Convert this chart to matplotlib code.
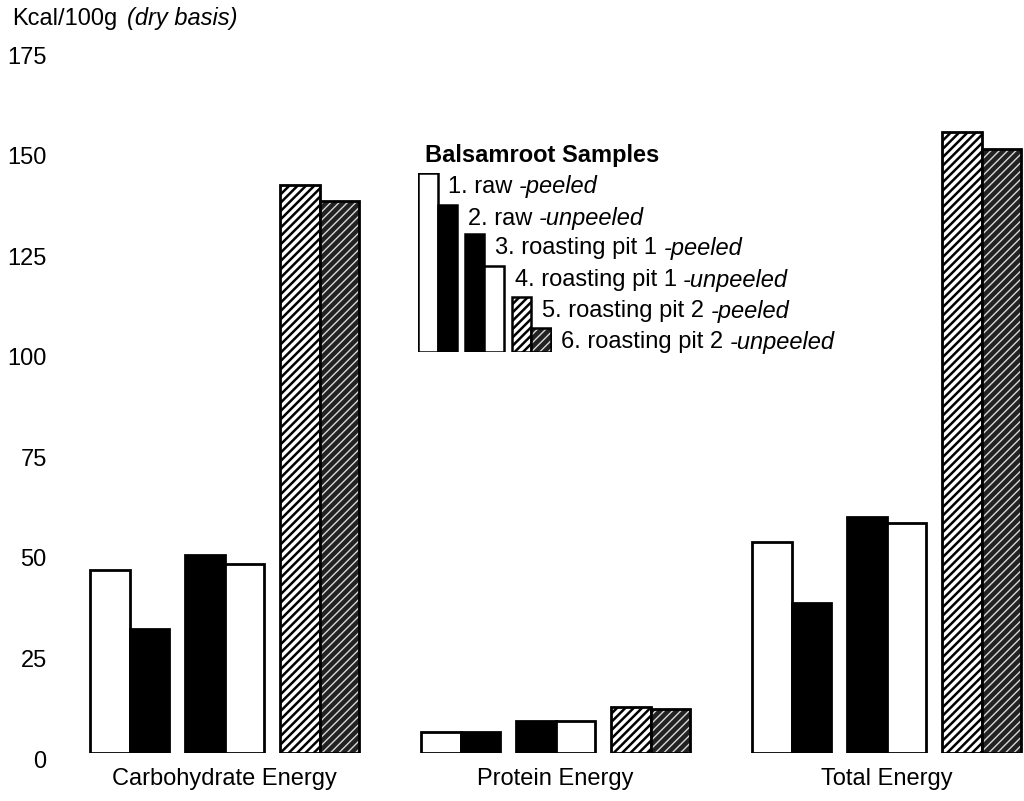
import numpy as np
import matplotlib.pyplot as plt
from matplotlib.transforms import ScaledTranslation

plt.rcParams['font.family'] = ['Liberation Sans', 'DejaVu Sans']

categories = ['Carbohydrate Energy', 'Protein Energy', 'Total Energy']
sample_main = ['1. raw ', '2. raw ', '3. roasting pit 1 ', '4. roasting pit 1 ',
               '5. roasting pit 2 ', '6. roasting pit 2 ']
sample_style = ['-peeled', '-unpeeled', '-peeled', '-unpeeled', '-peeled', '-unpeeled']

raw_peeled = [45.4, 5.2, 52.5]
raw_unpeeled = [30.9, 5.2, 37.2]
pit1_peeled = [49.2, 7.9, 58.6]
pit1_unpeeled = [47.1, 7.9, 57.1]
pit2_peeled = [141.3, 11.4, 154.5]
pit2_unpeeled = [137.2, 10.9, 150.2]
series = [raw_peeled, raw_unpeeled, pit1_peeled, pit1_unpeeled, pit2_peeled, pit2_unpeeled]
yticks = [0, 25, 50, 75, 100, 125, 150, 175]

faces = ['white', 'black', 'black', 'white', 'white', 'black']


def draw_bars(a, xs, hs, i, w, lw):
    # plain bars, or hatched bars: fill + hatch first, black outline on top
    if i < 4:
        a.bar(xs, hs, width=w, facecolor=faces[i], edgecolor='black', linewidth=lw)
    elif i == 4:
        with plt.rc_context({'hatch.linewidth': 1.8}):
            a.bar(xs, hs, width=w, facecolor='white', edgecolor='black', linewidth=lw,
                  hatch='////')
    else:
        with plt.rc_context({'hatch.linewidth': 1.0}):
            a.bar(xs, hs, width=w, facecolor='#222222', edgecolor='#d8d8d8', linewidth=0,
                  hatch='////')
        a.bar(xs, hs, width=w, fill=False, edgecolor='black', linewidth=lw)


fig = plt.figure(figsize=(10.24, 8.01), dpi=100)
ax = fig.add_axes([80 / 1024, 48 / 801, 944 / 1024, 703.5 / 801])

w = 0.119
off = 0.287
offsets = [-off - w / 2, -off + w / 2, -w / 2, w / 2, off - w / 2, off + w / 2]
x = np.arange(len(categories))
for i, vals in enumerate(series):
    draw_bars(ax, x + offsets[i], vals, i, w, 2.0)

ax.set_xlim(-0.4366, 2.415)
ax.set_ylim(0, 175)
ax.set_xticks(x)
ax.set_xticklabels(categories, fontsize=17)
ax.set_yticks(yticks)
ax.set_yticklabels([str(t) for t in yticks], fontsize=17)
ax.tick_params(axis='both', length=0)
ax.tick_params(axis='x', pad=11)
ax.tick_params(axis='y', pad=24)
for lab in ax.get_yticklabels():
    lab.set_transform(lab.get_transform() + ScaledTranslation(0, -0.06, fig.dpi_scale_trans))
for s in ax.spines.values():
    s.set_visible(False)

fig.text(12 / 1024, 1 - 19 / 801, 'Kcal/100g', fontsize=17, va='center')
fig.text(127 / 1024, 1 - 19 / 801, '(dry basis)', fontsize=17, va='center', style='italic')

# legend drawn as a small stair of bars
lax = fig.add_axes([418 / 1024, 1 - 352 / 801, 134 / 1024, 179 / 801])
leg_x = [0.5, 1.5, 2.9, 3.9, 5.3, 6.3]
leg_h = [5.77, 4.74, 3.8, 2.77, 1.77, 0.77]
for i in range(6):
    draw_bars(lax, leg_x[i], leg_h[i], i, 1.0, 1.8)
lax.set_xlim(0, 6.87)
lax.set_ylim(0, 5.77)
lax.axis('off')
lax.text(0.36, 6.35, 'Balsamroot Samples', fontsize=17, fontweight='bold', va='center',
         clip_on=False)
for i in range(6):
    t = lax.text(leg_x[i] + 1.05, leg_h[i] - 0.45, sample_main[i], fontsize=17,
                 va='center', clip_on=False)
    lax.annotate(sample_style[i], xycoords=t, xy=(1, 0.5), va='center', fontsize=17,
                 style='italic', annotation_clip=False)

fig.savefig('out.png', dpi=100)
